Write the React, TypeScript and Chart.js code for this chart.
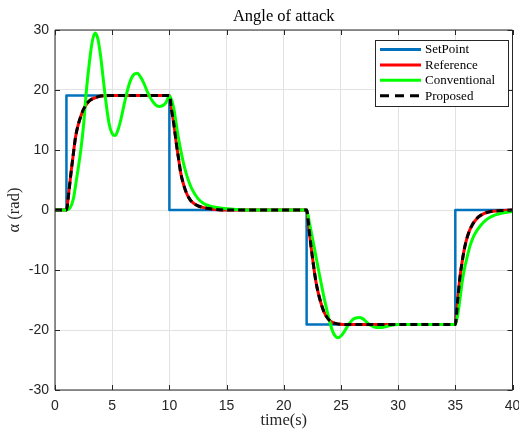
import { useEffect, useRef } from 'react';
import { Chart, registerables } from 'chart.js';

Chart.register(...registerables);

// ---------- data ----------
const chartTitle = 'Angle of attack';
const xAxisTitle = 'time(s)';
const yAxisTitle = 'α (rad)';

const xMin = 0;
const xMax = 40;
const xStep = 5;
const yMin = -30;
const yMax = 30;
const yStep = 10;

const seriesNames = ['SetPoint', 'Reference', 'Conventional', 'Proposed'];
const seriesColors = ['#0072BD', '#FF0000', '#00FF00', '#000000'];

const setPointT = [0, 1, 1, 10, 10, 22, 22, 35, 35, 40];
const setPointV = [0, 0, 19.1, 19.1, 0, 0, -19.1, -19.1, 0, 0];

const referenceT = [
  0, 1, 1.2, 1.4, 1.6, 1.8, 2.0, 2.25, 2.5, 2.75, 3.0, 3.5, 4.0, 5.0,
  10.0, 10.2, 10.4, 10.6, 10.8, 11.0, 11.25, 11.5, 11.75, 12.0, 12.5, 13.0, 14.0, 15.0,
  22.0, 22.2, 22.4, 22.6, 22.8, 23.0, 23.25, 23.5, 23.75, 24.0, 24.5, 25.0, 26.0,
  35.0, 35.2, 35.4, 35.6, 35.8, 36.0, 36.25, 36.5, 36.75, 37.0, 37.5, 38.0, 39.0, 40.0,
];
const referenceV = [
  0, 0, 2.8, 6.2, 9.3, 12.2, 14.0, 15.6, 16.8, 17.6, 18.2, 18.7, 19.0, 19.1,
  19.1, 16.6, 14.2, 11.2, 8.6, 6.1, 4.2, 2.8, 1.9, 1.3, 0.7, 0.4, 0.1, 0,
  0, -3.0, -6.3, -9.2, -11.8, -13.7, -15.5, -16.9, -17.8, -18.4, -18.9, -19.05, -19.1,
  -19.1, -15.2, -11.3, -8.6, -6.4, -4.8, -3.4, -2.4, -1.75, -1.2, -0.6, -0.3, -0.1, 0,
];

const conventionalT = [
  0, 1, 1.3, 1.6, 1.8, 2.0, 2.25, 2.5, 2.75, 3.0,
  3.25, 3.5, 3.75, 4.0, 4.25, 4.5, 4.75, 5.0, 5.25, 5.5,
  5.75, 6.0, 6.3, 6.6, 6.9, 7.2, 7.5, 7.8, 8.1, 8.4,
  8.75, 9.1, 9.4, 9.7, 10.0, 10.2, 10.4, 10.6, 10.8, 11.0,
  11.25, 11.5, 11.75, 12.0, 12.5, 13.0, 13.5, 14.0, 15.0, 16.0,
  17.0, 22.0, 22.25, 22.5, 22.75, 23.0, 23.25, 23.5, 23.75, 24.0,
  24.25, 24.5, 24.75, 25.0, 25.25, 25.5, 25.75, 26.0, 26.3, 26.6,
  26.9, 27.2, 27.5, 27.8, 28.1, 28.4, 28.8, 29.3, 30.0, 35.0,
  35.2, 35.4, 35.6, 35.8, 36.0, 36.3, 36.6, 36.9, 37.25, 37.6,
  38.0, 38.5, 39.0, 39.5, 40.0,
];
const conventionalV = [
  0, 0, 0.3, 1.8, 4.1, 6.6, 9.9, 14.2, 20.0, 24.5,
  28.0, 29.5, 28.5, 25.5, 21.3, 17.3, 14.2, 12.7, 12.4, 13.3,
  15.0, 17.2, 19.7, 21.6, 22.6, 22.8, 22.1, 21.0, 19.6, 18.5,
  17.6, 17.25, 17.4, 17.9, 19.0, 18.3, 16.8, 14.3, 11.9, 9.9,
  7.7, 5.9, 4.5, 3.4, 1.9, 1.1, 0.7, 0.45, 0.2, 0.08,
  0, 0, -2.2, -4.6, -7.1, -9.6, -12.0, -14.4, -16.5, -18.5,
  -20.1, -21.0, -21.3, -21.0, -20.4, -19.6, -18.9, -18.3, -18.0, -17.9,
  -18.1, -18.6, -19.1, -19.4, -19.6, -19.6, -19.5, -19.25, -19.1, -19.1,
  -17.6, -14.9, -12.0, -9.8, -8.1, -5.9, -4.4, -3.4, -2.5, -1.8,
  -1.25, -0.8, -0.55, -0.38, -0.28,
];

const proposedT = referenceT;
const proposedV = [
  0, 0, 2.8, 6.2, 9.3, 12.2, 14.0, 15.6, 16.8, 17.6, 18.2, 18.7, 19.0, 19.1,
  19.1, 16.6, 14.2, 11.2, 8.6, 6.1, 4.2, 2.8, 1.9, 1.3, 0.7, 0.4, 0.1, 0,
  0, -3.0, -6.3, -9.2, -11.8, -13.7, -15.5, -16.9, -17.8, -18.4, -18.9, -19.05, -19.1,
  -19.1, -15.2, -11.3, -8.6, -6.4, -4.8, -3.4, -2.4, -1.75, -1.2, -0.6, -0.3, -0.1, 0,
];

// ---------- styling ----------
const W = 519;
const H = 432;
const AXIS_DARK = '#262626';
const SANS = '"Liberation Sans", Arial, Helvetica, sans-serif';
const SERIF = '"Liberation Serif", "Times New Roman", serif';

const zip = (t: number[], v: number[]) => t.map((x, i) => ({ x, y: v[i] }));

const overlayPlugin = {
  id: 'matlabOverlay',
  afterDatasetsDraw(chart: any) {
    const { ctx, chartArea } = chart;
    const { left, right, top, bottom } = chartArea;
    const xs = chart.scales.x;
    const ys = chart.scales.y;
    ctx.save();
    ctx.strokeStyle = AXIS_DARK;
    ctx.lineWidth = 1;
    ctx.beginPath();
    ctx.moveTo(left, bottom);
    ctx.lineTo(left, top);
    ctx.lineTo(right, top);
    ctx.moveTo(left, bottom);
    ctx.lineTo(right, bottom);
    ctx.moveTo(right, top);
    ctx.lineTo(right, bottom);
    ctx.stroke();
    const tl = 5;
    ctx.beginPath();
    xs.ticks.forEach((t: any) => {
      const px = Math.round(xs.getPixelForValue(t.value)) + 0.5;
      ctx.moveTo(px, bottom);
      ctx.lineTo(px, bottom - tl);
      ctx.moveTo(px, top);
      ctx.lineTo(px, top + tl);
    });
    ys.ticks.forEach((t: any) => {
      const py = Math.round(ys.getPixelForValue(t.value)) + 0.5;
      ctx.moveTo(left, py);
      ctx.lineTo(left + tl, py);
      ctx.moveTo(right, py);
      ctx.lineTo(right - tl, py);
    });
    ctx.stroke();
    ctx.restore();
  },
  afterDraw(chart: any) {
    const { ctx, chartArea } = chart;
    const { left, right, top, bottom } = chartArea;
    const cx = (left + right) / 2;
    const cy = (top + bottom) / 2;
    ctx.save();
    ctx.fillStyle = '#000';
    ctx.font = `16.5px ${SERIF}`;
    ctx.textAlign = 'center';
    ctx.textBaseline = 'alphabetic';
    ctx.fillText(chartTitle, cx, 21);
    ctx.fillStyle = AXIS_DARK;
    ctx.fillText(xAxisTitle, cx, 425);
    ctx.save();
    ctx.translate(19, cy);
    ctx.rotate(-Math.PI / 2);
    ctx.textBaseline = 'alphabetic';
    ctx.fillText(yAxisTitle, 0, 0);
    ctx.restore();

    const bx = 375.5, by = 40.5, bw = 133, bh = 66;
    ctx.fillStyle = '#ffffff';
    ctx.fillRect(bx, by, bw, bh);
    ctx.strokeStyle = AXIS_DARK;
    ctx.lineWidth = 1;
    ctx.strokeRect(bx, by, bw, bh);
    const ds = chart.data.datasets;
    ctx.font = `13px ${SERIF}`;
    ctx.textAlign = 'left';
    ctx.textBaseline = 'middle';
    ds.forEach((d: any, i: number) => {
      const y = 49.5 + i * 15.4;
      ctx.save();
      ctx.strokeStyle = d.borderColor;
      ctx.lineWidth = 3;
      ctx.setLineDash(d.borderDash ? [9, 6] : []);
      ctx.beginPath();
      ctx.moveTo(380, y);
      ctx.lineTo(421, y);
      ctx.stroke();
      ctx.restore();
      ctx.fillStyle = '#000';
      ctx.fillText(d.label, 425, y + 0.5);
    });
    ctx.restore();
  },
};

export default function App() {
  const canvasRef = useRef<HTMLCanvasElement>(null);

  useEffect(() => {
    if (!canvasRef.current) return;
    const tickFont = { family: SANS, size: 14 };
    const gridCfg = { color: '#e2e2e2', lineWidth: 1, drawTicks: false };
    const chart = new Chart(canvasRef.current, {
      type: 'line',
      data: {
        datasets: [
          {
            label: seriesNames[0],
            data: zip(setPointT, setPointV),
            borderColor: seriesColors[0],
            borderWidth: 2.5,
            tension: 0,
            order: 4,
          },
          {
            label: seriesNames[1],
            data: zip(referenceT, referenceV),
            borderColor: seriesColors[1],
            borderWidth: 3,
            cubicInterpolationMode: 'monotone',
            order: 3,
          },
          {
            label: seriesNames[2],
            data: zip(conventionalT, conventionalV),
            borderColor: seriesColors[2],
            borderWidth: 3,
            cubicInterpolationMode: 'monotone',
            order: 2,
          },
          {
            label: seriesNames[3],
            data: zip(proposedT, proposedV),
            borderColor: seriesColors[3],
            borderWidth: 3,
            borderDash: [7, 4],
            cubicInterpolationMode: 'monotone',
            order: 1,
          },
        ] as any,
      },
      options: {
        animation: false,
        responsive: false,
        devicePixelRatio: 1,
        elements: {
          point: { radius: 0, hoverRadius: 0 },
          line: { borderCapStyle: 'butt', borderJoinStyle: 'round', fill: false },
        },
        layout: { padding: { top: 30, right: 6.5, left: 0, bottom: 0 } },
        scales: {
          x: {
            type: 'linear',
            min: xMin,
            max: xMax,
            afterFit: (s: any) => {
              s.height = 42;
              s.paddingLeft = 0;
              s.paddingRight = 0;
            },
            ticks: { stepSize: xStep, padding: 8, font: tickFont, color: AXIS_DARK, maxRotation: 0, autoSkip: false },
            grid: gridCfg,
            border: { display: false },
          },
          y: {
            type: 'linear',
            min: yMin,
            max: yMax,
            afterFit: (s: any) => {
              s.width = 55;
              s.paddingTop = 0;
              s.paddingBottom = 0;
            },
            ticks: { stepSize: yStep, padding: 6, font: tickFont, color: AXIS_DARK },
            grid: gridCfg,
            border: { display: false },
          },
        },
        plugins: {
          legend: { display: false },
          title: { display: false },
          tooltip: { enabled: false },
        },
      } as any,
      plugins: [overlayPlugin],
    });
    return () => chart.destroy();
  }, []);

  return (
    <div style={{ position: 'absolute', left: 0, top: 0, width: W, height: H, background: '#fff' }}>
      <canvas ref={canvasRef} width={W} height={H} style={{ display: 'block' }} />
    </div>
  );
}
